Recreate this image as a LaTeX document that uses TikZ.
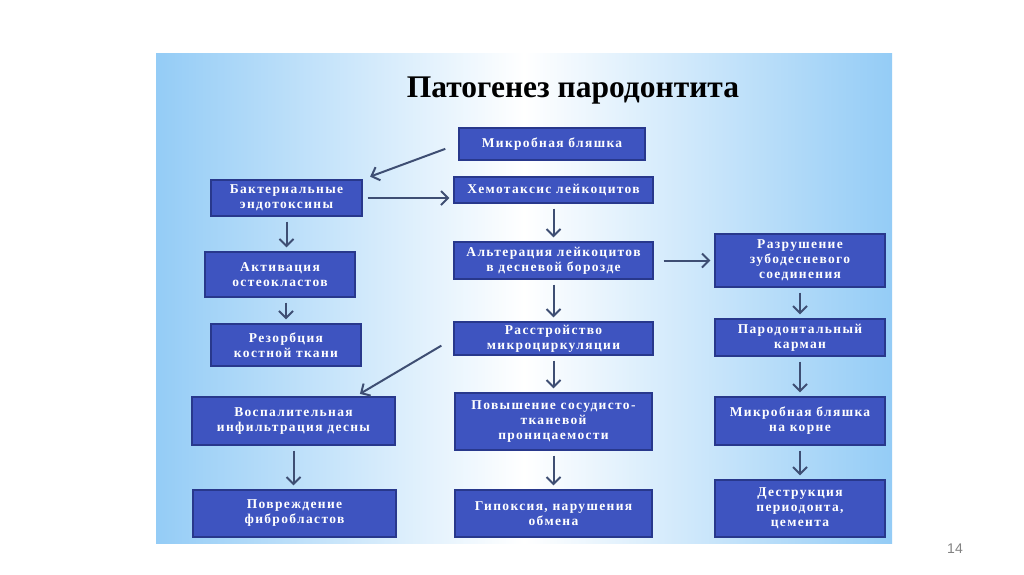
\documentclass[tikz,border=0pt]{standalone}
\usepackage{fontspec}
\setmainfont{Liberation Serif}
\setsansfont{Liberation Sans}
\newfontfamily\boxfont[LetterSpace=10]{Liberation Serif}
\usetikzlibrary{arrows.meta, positioning}
\definecolor{panelblue}{RGB}{148,204,246}
\definecolor{boxblue}{RGB}{62,84,192}
\definecolor{boxedge}{RGB}{40,56,140}
\definecolor{arrowgrey}{RGB}{62,78,115}
\definecolor{pagegrey}{RGB}{130,130,130}

\begin{document}
\begin{tikzpicture}[x=1pt, y=-1pt,
        stage/.style={draw=boxedge, line width=1.2pt, fill=boxblue, text=white, align=center, inner sep=2pt, font=\boxfont\bfseries\fontsize{13.5}{15}\selectfont},
        arrow/.style={draw=arrowgrey, line width=2pt, -{Straight Barb[length=7pt, width=14pt]}, shorten <=5pt, shorten >=4pt}
    ]
        \useasboundingbox (0,0) rectangle (1024,574);
        \fill[white] (0,0) rectangle (1024,574);

        % background panel
        \shade[left color=panelblue, right color=panelblue, middle color=white] (156,53) rectangle (892,543);
        \node[font=\bfseries\fontsize{31.5}{34}\selectfont] (title) at (573,91) {Патогенез пародонтита};

        % middle column
        \node[stage, minimum width=186pt, minimum height=32pt] (plaque) at (552,144) {Микробная бляшка};
        \node[stage, minimum width=199pt, minimum height=26pt] (chemo) at (553.5,190) {Хемотаксис лейкоцитов};
        \node[stage, minimum width=199pt, minimum height=37pt] (alter) at (553.5,260.5) {Альтерация лейкоцитов\\в десневой борозде};
        \node[stage, minimum width=199pt, minimum height=33pt] (micro) at (553.5,338.5) {Расстройство\\микроциркуляции};
        \node[stage, minimum width=197pt, minimum height=57pt] (perm) at (553.5,421.5) {Повышение сосудисто-\\тканевой\\проницаемости};
        \node[stage, minimum width=197pt, minimum height=47pt] (hypox) at (553.5,513.5) {Гипоксия, нарушения\\обмена};

        % left column
        \node[stage, minimum width=151pt, minimum height=36pt] (endotox) at (286.5,198) {Бактериальные\\эндотоксины};
        \node[stage, minimum width=150pt, minimum height=45pt] (osteo) at (280,274.5) {Активация\\остеокластов};
        \node[stage, minimum width=150pt, minimum height=42pt] (resorp) at (286,345) {Резорбция\\костной ткани};
        \node[stage, minimum width=203pt, minimum height=48pt] (inflam) at (293.5,421) {Воспалительная\\инфильтрация десны};
        \node[stage, minimum width=203pt, minimum height=47pt] (fibro) at (294.5,513.5) {Повреждение\\фибробластов};

        % right column
        \node[stage, minimum width=170pt, minimum height=53pt] (junction) at (800,260.5) {Разрушение\\зубодесневого\\соединения};
        \node[stage, minimum width=170pt, minimum height=37pt] (pocket) at (800,337.5) {Пародонтальный\\карман};
        \node[stage, minimum width=170pt, minimum height=48pt] (rootplaque) at (800,421) {Микробная бляшка\\на корне};
        \node[stage, minimum width=170pt, minimum height=57pt] (destruct) at (800,508.5) {Деструкция\\периодонта,\\цемента};

        \node[font=\sffamily\fontsize{14}{16}\selectfont, text=pagegrey] (page) at (955,549) {14};

        % connectors
        \draw[arrow, shorten <=14pt, shorten >=8pt] (plaque.west) -- (endotox.north east);
        \draw[arrow] (endotox.east) -- (endotox.east -| chemo.west);
        \draw[arrow] (endotox.south) -- (endotox.south |- osteo.north);
        \draw[arrow] (osteo.south -| resorp.north) -- (resorp.north);
        \draw[arrow] (chemo) -- (alter);
        \draw[arrow] (alter) -- (micro);
        \draw[arrow, shorten <=10pt] (alter.east) -- (alter.east -| junction.west);
        \draw[arrow] (junction) -- (pocket);
        \draw[arrow, shorten <=14pt, shorten >=5pt] (micro.west) -- ([xshift=-40pt]inflam.north east);
        \draw[arrow] (micro) -- (perm);
        \draw[arrow] (pocket) -- (rootplaque);
        \draw[arrow] (inflam.south) -- (inflam.south |- fibro.north);
        \draw[arrow] (perm) -- (hypox);
        \draw[arrow] (rootplaque) -- (destruct);
    \end{tikzpicture}
\end{document}
